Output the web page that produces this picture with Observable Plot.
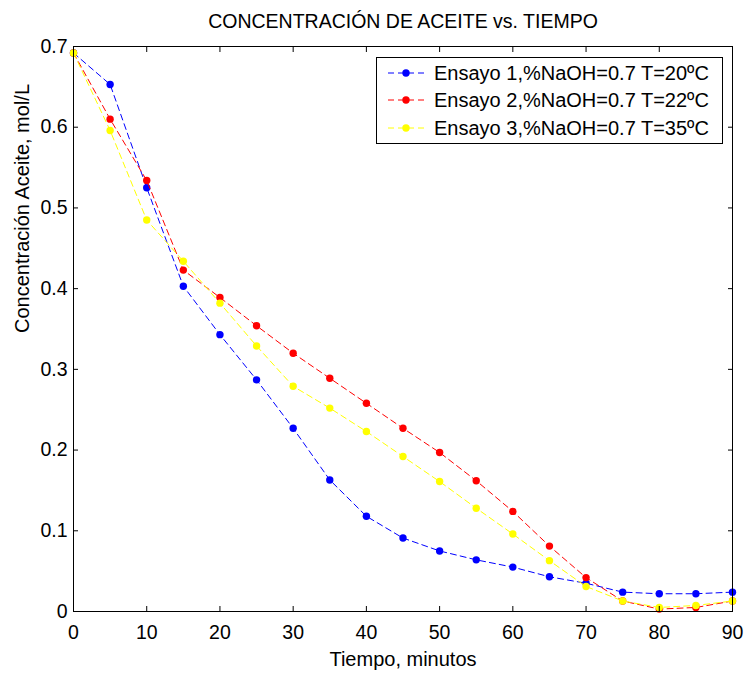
<!DOCTYPE html>
<html>
<head>
<meta charset="utf-8">
<script src="https://cdn.jsdelivr.net/npm/d3@7"></script>
<script src="https://cdn.jsdelivr.net/npm/@observablehq/plot@0.6"></script>
<style>
  html, body { margin: 0; padding: 0; background: #fff; }
  #wrap { position: relative; width: 747px; height: 673px; }
  #legend { position: absolute; left: 376px; top: 57px; }
</style>
</head>
<body>
<div id="wrap"></div>
<script>
const tiempo = [0,5,10,15,20,25,30,35,40,45,50,55,60,65,70,75,80,85,90];
const ensayo1 = [0.692,0.653,0.525,0.403,0.343,0.287,0.227,0.163,0.118,0.091,0.075,0.064,0.055,0.043,0.035,0.024,0.022,0.022,0.024];
const ensayo2 = [0.692,0.610,0.534,0.423,0.389,0.354,0.320,0.289,0.258,0.227,0.197,0.162,0.124,0.081,0.042,0.013,0.003,0.005,0.013];
const ensayo3 = [0.692,0.596,0.485,0.434,0.382,0.329,0.279,0.252,0.223,0.192,0.161,0.128,0.096,0.063,0.031,0.013,0.005,0.0075,0.013];
const seriesNames = ["Ensayo 1,%NaOH=0.7 T=20ºC", "Ensayo 2,%NaOH=0.7 T=22ºC", "Ensayo 3,%NaOH=0.7 T=35ºC"];
const seriesColors = ["#0000ff", "#ff0000", "#ffff00"];
const xTicks = [0,10,20,30,40,50,60,70,80,90];
const yTicks = [0,0.1,0.2,0.3,0.4,0.5,0.6,0.7];
const title = "CONCENTRACIÓN DE ACEITE vs. TIEMPO";
const xLabel = "Tiempo, minutos";
const yLabel = "Concentración Aceite, mol/L";

const allSeries = [ensayo1, ensayo2, ensayo3];
const tables = allSeries.map(vals => tiempo.map((t, i) => ({t, c: vals[i]})));

const font = "'Liberation Sans', Arial, Helvetica, sans-serif";
const dash = "6,4";

const marks = [];
tables.forEach((tbl, k) => {
  marks.push(Plot.line(tbl, {x: "t", y: "c", stroke: seriesColors[k], strokeWidth: 1, strokeDasharray: dash}));
  marks.push(Plot.dot(tbl, {x: "t", y: "c", fill: seriesColors[k], r: 3.7, stroke: "none"}));
});

const chart = Plot.plot({
  width: 747,
  height: 673,
  marginLeft: 73,
  marginRight: 15,
  marginTop: 46,
  marginBottom: 62,
  style: {fontFamily: font, fontSize: "19.5px", background: "#fff", color: "#000"},
  x: {domain: [0, 90], ticks: xTicks},
  y: {domain: [0, 0.7], ticks: yTicks},
  marks: [
    ...marks,
    Plot.frame({stroke: "#000", strokeWidth: 1}),
    // tick labels
    Plot.axisX(xTicks, {anchor: "bottom", tickSize: 0, tickPadding: 14, fontSize: 19.5, label: null, tickFormat: d => String(d)}),
    Plot.axisY(yTicks, {anchor: "left", tickSize: 0, tickPadding: 6, fontSize: 19.5, label: null, tickFormat: d => d === 0 ? "0" : d3.format(".1f")(d)}),
    // inward ticks on all four sides
    Plot.axisX(xTicks, {anchor: "bottom", tickSize: 5, dy: -5, fill: "none", label: null}),
    Plot.axisX(xTicks, {anchor: "top", tickSize: 5, dy: 5, fill: "none", label: null}),
    Plot.axisY(yTicks, {anchor: "left", tickSize: 5, dx: 5, fill: "none", label: null}),
    Plot.axisY(yTicks, {anchor: "right", tickSize: 5, dx: -5, fill: "none", label: null}),
    // titles
    Plot.text([title], {frameAnchor: "top", dy: -19, lineAnchor: "bottom", fontSize: 19.5, fill: "#000"}),
    Plot.text([xLabel], {frameAnchor: "bottom", dy: 54, lineAnchor: "bottom", fontSize: 20, fill: "#000"}),
    Plot.text([yLabel], {frameAnchor: "left", dx: -51, dy: 4, rotate: -90, lineAnchor: "middle", fontSize: 20, fill: "#000"})
  ]
});

const wrap = document.getElementById("wrap");
wrap.appendChild(chart);

// legend
const lw = 346, lh = 86;
const legend = d3.create("svg")
  .attr("id", "legend")
  .attr("width", lw + 2)
  .attr("height", lh + 2)
  .style("font-family", font);
legend.append("rect").attr("x", 0.5).attr("y", 0.5).attr("width", lw).attr("height", lh)
  .attr("fill", "#fff").attr("stroke", "#000").attr("stroke-width", 1);
const rowsY = [16, 43, 71];
seriesNames.forEach((name, k) => {
  const g = legend.append("g").attr("transform", `translate(0,${rowsY[k]})`);
  g.append("line").attr("x1", 12).attr("x2", 48).attr("y1", 0).attr("y2", 0)
    .attr("stroke", seriesColors[k]).attr("stroke-width", 1).attr("stroke-dasharray", dash);
  g.append("circle").attr("cx", 30).attr("cy", 0).attr("r", 3.7).attr("fill", seriesColors[k]);
  g.append("text").attr("x", 58).attr("y", 0).attr("dy", "0.35em")
    .attr("font-size", 20).attr("fill", "#000").text(name);
});
wrap.appendChild(legend.node());
</script>
</body>
</html>
